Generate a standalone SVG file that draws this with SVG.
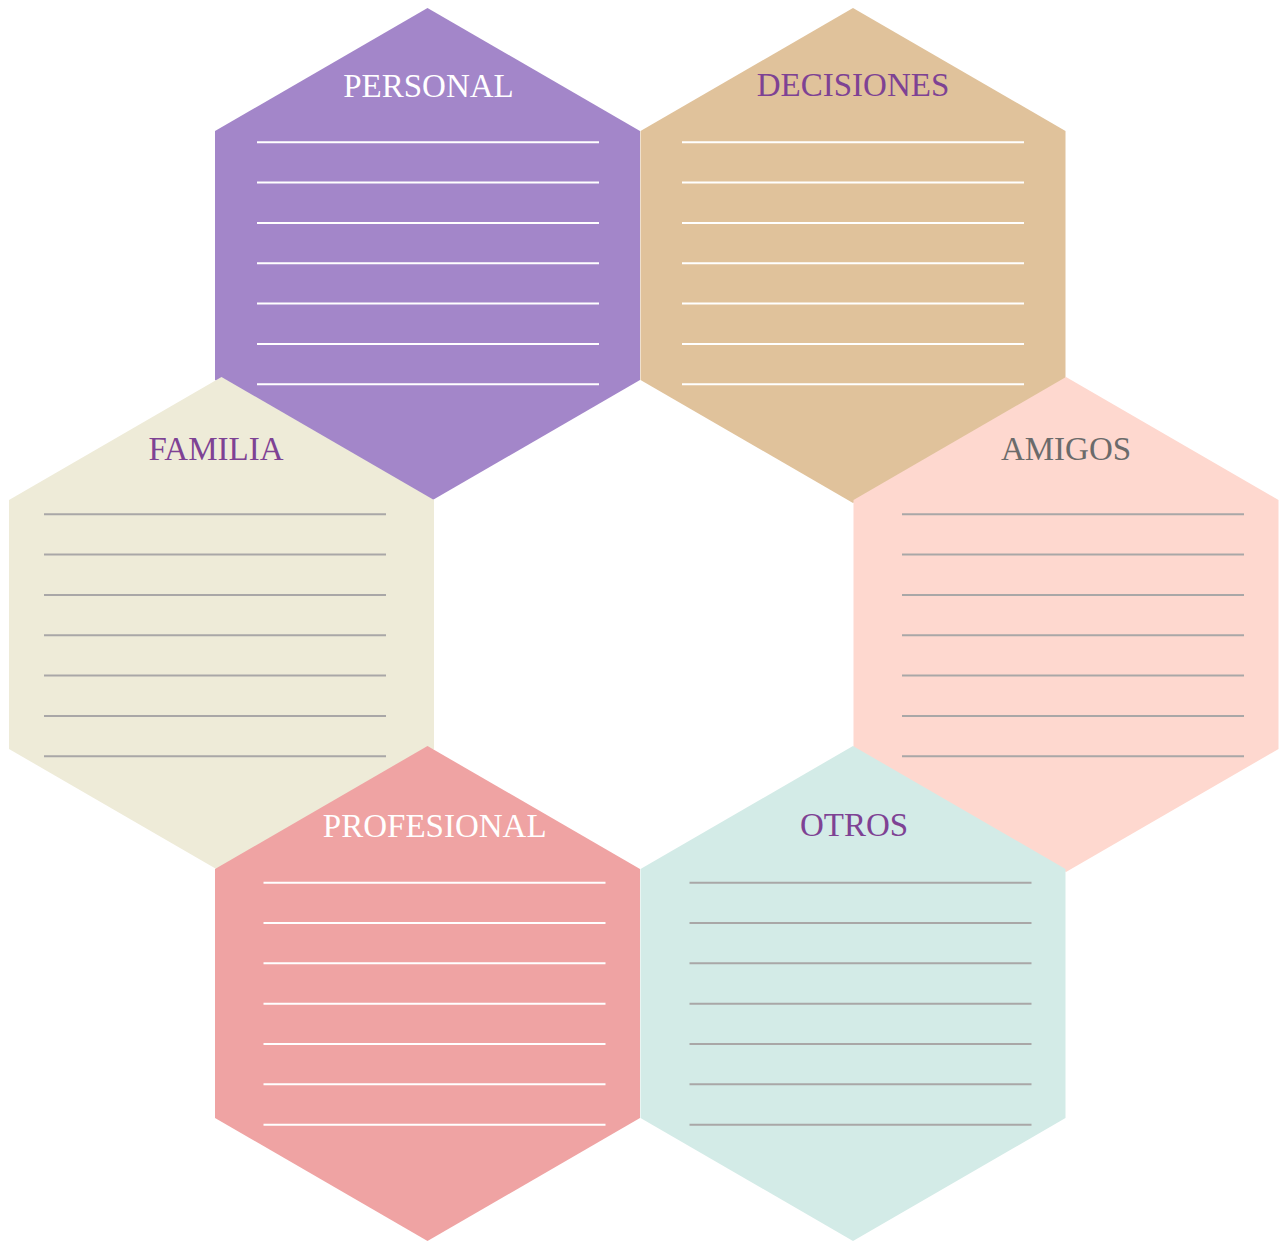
<svg xmlns="http://www.w3.org/2000/svg" width="1282" height="1244" viewBox="0 0 1282 1244">
<style>
.lbl{font-family:"Liberation Serif","Times New Roman",serif;font-size:33px;text-anchor:middle}
.lw{stroke:#ffffff;stroke-width:2}
.lg{stroke:#a9a7a7;stroke-width:2}
</style>
<defs>
<polygon id="hex" points="0,0 212.5,123 212.5,372 0,495 -212.5,372 -212.5,123"/>
<g id="linesW" class="lw"><line x1="0" y1="0" x2="342" y2="0"/><line x1="0" y1="40.3" x2="342" y2="40.3"/><line x1="0" y1="80.6" x2="342" y2="80.6"/><line x1="0" y1="121" x2="342" y2="121"/><line x1="0" y1="161.3" x2="342" y2="161.3"/><line x1="0" y1="201.6" x2="342" y2="201.6"/><line x1="0" y1="242" x2="342" y2="242"/></g>
<g id="linesG" class="lg"><line x1="0" y1="0" x2="342" y2="0"/><line x1="0" y1="40.3" x2="342" y2="40.3"/><line x1="0" y1="80.6" x2="342" y2="80.6"/><line x1="0" y1="121" x2="342" y2="121"/><line x1="0" y1="161.3" x2="342" y2="161.3"/><line x1="0" y1="201.6" x2="342" y2="201.6"/><line x1="0" y1="242" x2="342" y2="242"/></g>
</defs>
<rect width="1282" height="1244" fill="#ffffff"/>
<g id="personal">
<use href="#hex" x="427.5" y="8" fill="#a386c9"/>
<use href="#linesW" x="257" y="142.3"/>
<text class="lbl" x="428.5" y="96.5" fill="#ffffff">PERSONAL</text>
</g>
<g id="decisiones">
<use href="#hex" x="853" y="8" fill="#e0c29b"/>
<use href="#linesW" x="682" y="142.3"/>
<text class="lbl" x="853" y="95.5" fill="#7e4294">DECISIONES</text>
</g>
<g id="familia">
<use href="#hex" x="221.5" y="377" fill="#eeebd8"/>
<use href="#linesG" x="44" y="514.3"/>
<text class="lbl" x="216" y="460" fill="#7e4294">FAMILIA</text>
</g>
<g id="amigos">
<use href="#hex" x="1066" y="377" fill="#fed8cf"/>
<use href="#linesG" x="902" y="514.3"/>
<text class="lbl" x="1066" y="459.5" fill="#6b6b6b">AMIGOS</text>
</g>
<g id="profesional">
<use href="#hex" x="427.5" y="746" fill="#efa3a3"/>
<use href="#linesW" x="263.5" y="882.7"/>
<text class="lbl" x="434.7" y="836.5" fill="#ffffff">PROFESIONAL</text>
</g>
<g id="otros">
<use href="#hex" x="853" y="746" fill="#d3ebe7"/>
<use href="#linesG" x="689.5" y="882.7"/>
<text class="lbl" x="854" y="836" fill="#7e4294">OTROS</text>
</g>
<g id="connectors"/>
</svg>
